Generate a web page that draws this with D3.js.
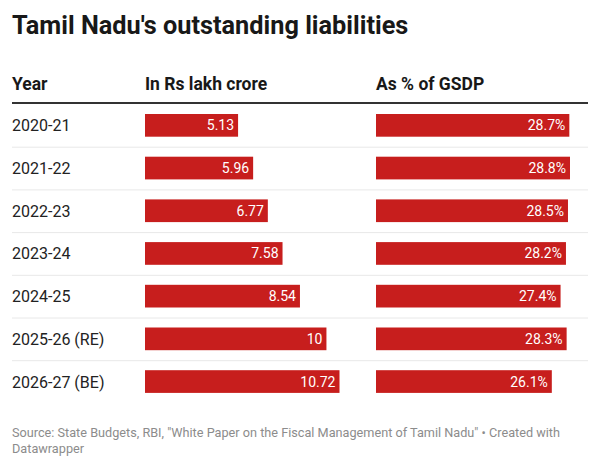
<!DOCTYPE html>
<html>
<head>
<meta charset="utf-8">
<script src="https://cdn.jsdelivr.net/npm/d3@7"></script>
<style>
  body { margin: 0; background: #fff; }
  svg { font-family: Roboto, sans-serif; display: block; }
</style>
</head>
<body>
<div id="chart"></div>
<script>
// Data
const years = ["2020-21", "2021-22", "2022-23", "2023-24", "2024-25", "2025-26 (RE)", "2026-27 (BE)"];
const lakhCrore = [5.13, 5.96, 6.77, 7.58, 8.54, 10, 10.72];
const pctGsdp = [28.7, 28.8, 28.5, 28.2, 27.4, 28.3, 26.1];
const headers = ["Year", "In Rs lakh crore", "As % of GSDP"];

const rows = years.map((y, i) => ({ year: y, lakh: lakhCrore[i], pct: pctGsdp[i] }));

const width = 600;
const height = 467;
const left = 12, right = 588;
const barColor = "#c71e1d";

const svg = d3.select("#chart")
  .append("svg")
  .attr("width", width)
  .attr("height", height);

// Title
svg.append("text")
  .attr("x", left)
  .attr("y", 34)
  .style("font-size", "25.3px")
  .style("font-weight", "bold")
  .style("fill", "#181818")
  .text("Tamil Nadu's outstanding liabilities");

// Scales
const y = d3.scaleBand()
  .domain(years)
  .range([104, 104 + 42.7 * years.length])
  .padding(0);

const barH = 22.7;
const barOff = (y.bandwidth() - barH) / 2;

const x1 = d3.scaleLinear()
  .domain([0, d3.max(lakhCrore)])
  .range([145, 339.5]);

const x2 = d3.scaleLinear()
  .domain([0, d3.max(pctGsdp)])
  .range([376, 570]);

// Header
const headerX = [left, 145, 376];
svg.selectAll("text.header")
  .data(headers)
  .join("text")
  .attr("class", "header")
  .attr("x", (d, i) => headerX[i])
  .attr("y", 89.5)
  .style("font-size", "17.5px")
  .style("font-weight", "bold")
  .style("fill", "#181818")
  .text(d => d);

svg.append("line")
  .attr("x1", left)
  .attr("x2", right)
  .attr("y1", 103)
  .attr("y2", 103)
  .attr("stroke", "#333")
  .attr("stroke-width", 2);

// Row separators
svg.selectAll("line.sep")
  .data(rows.slice(0, -1))
  .join("line")
  .attr("class", "sep")
  .attr("x1", left)
  .attr("x2", right)
  .attr("y1", d => y(d.year) + y.bandwidth() + 0.5)
  .attr("y2", d => y(d.year) + y.bandwidth() + 0.5)
  .attr("stroke", "#e8e8e8")
  .attr("stroke-width", 1);

// Year labels
svg.selectAll("text.year")
  .data(rows)
  .join("text")
  .attr("class", "year")
  .attr("x", left)
  .attr("y", d => y(d.year) + y.bandwidth() / 2 + 6)
  .style("font-size", "16px")
  .style("fill", "#222")
  .text(d => d.year);

// Bars: lakh crore
svg.selectAll("rect.lakh")
  .data(rows)
  .join("rect")
  .attr("class", "lakh")
  .attr("x", x1(0))
  .attr("y", d => y(d.year) + barOff)
  .attr("width", d => x1(d.lakh) - x1(0))
  .attr("height", barH)
  .attr("fill", barColor);

svg.selectAll("text.lakhLabel")
  .data(rows)
  .join("text")
  .attr("class", "lakhLabel")
  .attr("x", d => x1(d.lakh) - 4)
  .attr("y", d => y(d.year) + y.bandwidth() / 2 + 5)
  .attr("text-anchor", "end")
  .style("font-size", "14px")
  .style("fill", "#fff")
  .text(d => d.lakh);

// Bars: % of GSDP
svg.selectAll("rect.pct")
  .data(rows)
  .join("rect")
  .attr("class", "pct")
  .attr("x", x2(0))
  .attr("y", d => y(d.year) + barOff)
  .attr("width", d => x2(d.pct) - x2(0))
  .attr("height", barH)
  .attr("fill", barColor);

svg.selectAll("text.pctLabel")
  .data(rows)
  .join("text")
  .attr("class", "pctLabel")
  .attr("x", d => x2(d.pct) - 4)
  .attr("y", d => y(d.year) + y.bandwidth() / 2 + 5)
  .attr("text-anchor", "end")
  .style("font-size", "14px")
  .style("fill", "#fff")
  .text(d => d3.format(".1f")(d.pct) + "%");

// Footer
const foot = svg.append("text")
  .attr("x", left)
  .attr("y", 437)
  .style("font-size", "12.7px")
  .style("fill", "#8c8c8c");
foot.append("tspan")
  .attr("x", left)
  .text("Source: State Budgets, RBI, \"White Paper on the Fiscal Management of Tamil Nadu\" • Created with");
foot.append("tspan")
  .attr("x", left)
  .attr("dy", 15.5)
  .text("Datawrapper");
</script>
</body>
</html>
